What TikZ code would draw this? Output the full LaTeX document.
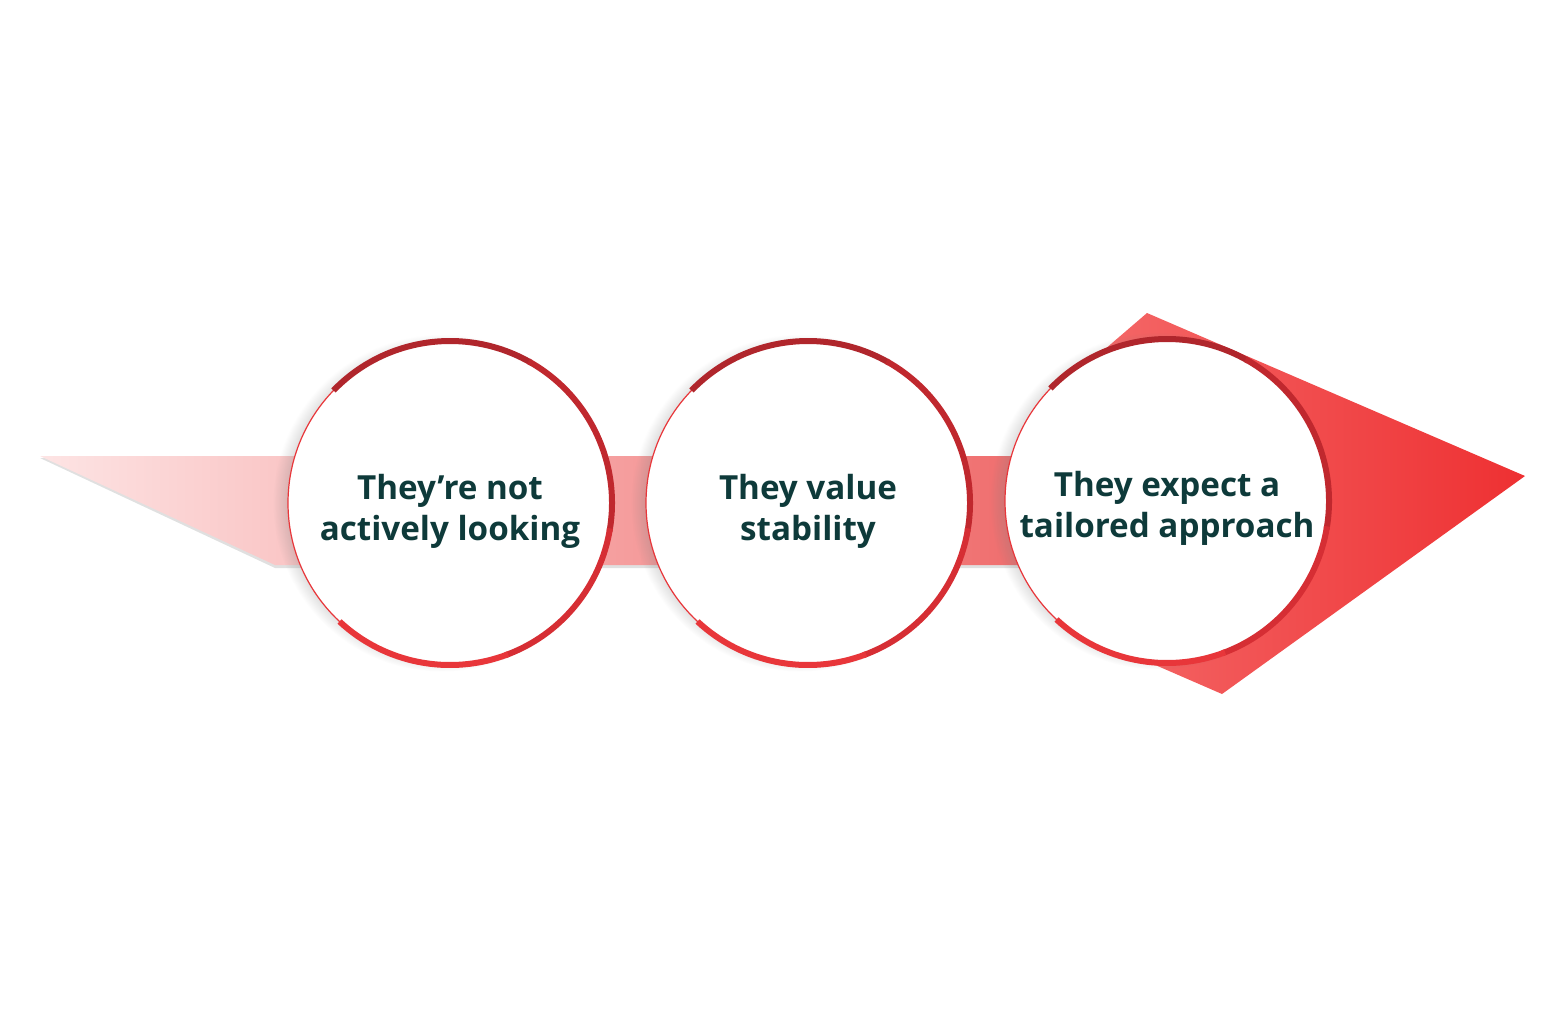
\documentclass[tikz,border=0pt]{standalone}
\usepackage{fontspec}
\setmainfont{Open Sans}
\usetikzlibrary{shadows}
\definecolor{inkteal}{RGB}{14,58,58}
\definecolor{bandlight}{RGB}{253,228,228}
\definecolor{bandred}{RGB}{238,100,100}
\definecolor{headlight}{RGB}{244,104,104}
\definecolor{headred}{RGB}{238,48,50}
\definecolor{rimA}{RGB}{176,38,44}
\definecolor{rimB}{RGB}{192,40,46}
\definecolor{rimC}{RGB}{214,46,52}
\definecolor{rimD}{RGB}{232,54,58}
\tikzset{
  bubble/.style={circle, minimum size=162pt, inner sep=0pt, outer sep=0pt,
    fill=white, draw=rimD, line width=0.6pt,
    circular drop shadow={shadow xshift=-4pt, shadow yshift=0pt, shadow scale=1.04, opacity=0.45}},
  caption/.style={align=center, text=inkteal, inner sep=0pt,
    font=\bfseries\fontsize{16.6}{20.5}\selectfont},
  rim/.style={line width=3pt},
}
\begin{document}
\begin{tikzpicture}[x=0.5pt,y=-0.5pt]
\useasboundingbox (0,0) rectangle (1552,1008);

%Band shadow
\fill [black!35, opacity=0.35] (40,458) -- (1100,458) -- (1100,568) -- (275,568) -- cycle ;
%Band
\shade [left color=bandlight, right color=bandred] (40,456) -- (1100,456) -- (1100,565) -- (275,565) -- cycle ;

%Arrow head
\shade [left color=headlight, right color=headred] (1147,313) -- (1525,476) -- (1222,694) -- (1130,654) -- (1120,500) -- (1090,362) -- cycle ;

%Circles
\node [bubble] (c1) at (450,503) {};
\node [bubble] (c2) at (808,503) {};
\node [bubble] (c3) at (1167,501) {};

%Rims
\draw [rim, rimA] (c1.136) arc[start angle=136, end angle=60, radius=81pt] ;
\draw [rim, rimB] (c1.61) arc[start angle=61, end angle=-10, radius=81pt] ;
\draw [rim, rimC] (c1.-9) arc[start angle=-9, end angle=-70, radius=81pt] ;
\draw [rim, rimD] (c1.-69) arc[start angle=-69, end angle=-133, radius=81pt] ;

\draw [rim, rimA] (c2.136) arc[start angle=136, end angle=60, radius=81pt] ;
\draw [rim, rimB] (c2.61) arc[start angle=61, end angle=-10, radius=81pt] ;
\draw [rim, rimC] (c2.-9) arc[start angle=-9, end angle=-70, radius=81pt] ;
\draw [rim, rimD] (c2.-69) arc[start angle=-69, end angle=-133, radius=81pt] ;

\draw [rim, rimA] (c3.136) arc[start angle=136, end angle=60, radius=81pt] ;
\draw [rim, rimB] (c3.61) arc[start angle=61, end angle=-10, radius=81pt] ;
\draw [rim, rimC] (c3.-9) arc[start angle=-9, end angle=-70, radius=81pt] ;
\draw [rim, rimD] (c3.-69) arc[start angle=-69, end angle=-133, radius=81pt] ;

% Text Node
\node [caption] (t1) at (450,511) {They’re not\\actively looking};
% Text Node
\node [caption] (t2) at (808,511) {They value\\stability};
% Text Node
\node [caption] (t3) at (1167,508) {They expect a\\tailored approach};

\end{tikzpicture}
\end{document}
